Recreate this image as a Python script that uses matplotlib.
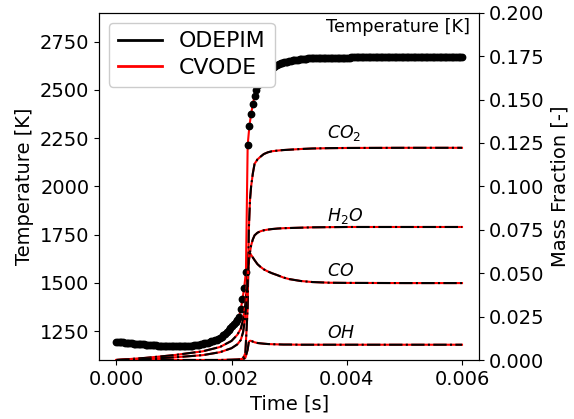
import numpy as np
import matplotlib
matplotlib.use("Agg")
import matplotlib.pyplot as plt
from matplotlib.lines import Line2D

# ODEPIM temperature, written every 3e-5 s
dt_out = 3e-5
temp_induction = [
    1195, 1194, 1193, 1192, 1191, 1190, 1189, 1188, 1187, 1186,
    1185, 1184, 1183.5, 1183, 1182, 1181, 1180.5, 1180, 1179, 1178.5,
    1178, 1177, 1176, 1175.5, 1175, 1174, 1173.5, 1173, 1172.5, 1172,
    1171.5, 1171, 1171, 1170.5, 1170.5, 1170.5, 1170.5, 1170.5, 1171, 1171,
    1171.5, 1172, 1173, 1174, 1175, 1176, 1177, 1178, 1180, 1182,
    1184, 1186, 1188, 1190, 1193, 1196, 1199, 1202, 1206, 1210,
    1215, 1221, 1228, 1236, 1245, 1254, 1264, 1275, 1287, 1296,
    1308, 1325, 1362, 1415, 1475, 1558,
]
temp_ignition = [
    2214, 2312, 2376, 2426, 2468, 2500, 2524, 2544, 2560, 2574,
    2586, 2596, 2604, 2610, 2615, 2620, 2625, 2629, 2633, 2637,
    2640, 2643, 2645, 2647, 2649, 2651, 2653, 2654, 2656, 2657,
    2658, 2659, 2660, 2661, 2662, 2663, 2663, 2664, 2664, 2665,
    2665, 2666, 2666, 2666,
]
temp_equilibrium = [
    2667, 2667, 2667, 2667, 2667, 2667, 2667, 2667, 2667, 2667,
    2667, 2667, 2667, 2667, 2667, 2667, 2668, 2668, 2668, 2668,
    2668, 2668, 2668, 2668, 2668, 2668, 2668, 2668, 2668, 2668,
    2668, 2668, 2668, 2668, 2668, 2668, 2668, 2668, 2668, 2668,
    2668, 2668, 2668, 2668, 2668, 2668, 2668, 2668, 2668, 2668,
    2668, 2668, 2668, 2668, 2668, 2668, 2668, 2668, 2668, 2668,
    2668, 2668, 2668, 2668, 2668, 2668, 2668, 2668, 2668, 2668,
    2668, 2668, 2668, 2668, 2668, 2668, 2668, 2668, 2668, 2668,
    2668,
]
temperature = np.array(temp_induction + temp_ignition + temp_equilibrium)
time_T = np.arange(len(temperature)) * dt_out

# species mass fractions (CVODE and ODEPIM lie on top of each other)
t_species = [0, 0.0005, 0.001, 0.0015, 0.0018, 0.002, 0.0021, 0.00216, 0.0022, 0.00224,
             0.00228, 0.0023, 0.00232, 0.00234, 0.00237, 0.0024, 0.00245, 0.0025, 0.00256, 0.00263,
             0.0027, 0.0028, 0.0029, 0.003, 0.0032, 0.0034, 0.0037, 0.004, 0.005, 0.006]
y_co2 = [0, 0, 0, 0, 0, 0.0001, 0.0002, 0.0004, 0.001, 0.004,
         0.03, 0.075, 0.092, 0.100, 0.1075, 0.113, 0.1155, 0.117, 0.1186, 0.1196,
         0.1202, 0.1206, 0.1209, 0.1211, 0.1215, 0.1218, 0.122, 0.1221, 0.1222, 0.1222]
y_h2o = [0, 0.0012, 0.0028, 0.005, 0.0075, 0.011, 0.0145, 0.018, 0.023, 0.032,
         0.05, 0.057, 0.062, 0.066, 0.0695, 0.0718, 0.0733, 0.0741, 0.0747, 0.0751,
         0.0754, 0.0757, 0.0759, 0.076, 0.0762, 0.0764, 0.0765, 0.0766, 0.0766, 0.0766]
y_co = [0, 0.0006, 0.0015, 0.0028, 0.0045, 0.0068, 0.009, 0.0115, 0.016, 0.025,
        0.045, 0.06, 0.0615, 0.0605, 0.059, 0.0575, 0.0552, 0.0537, 0.0522, 0.051,
        0.05, 0.0488, 0.0475, 0.0466, 0.0455, 0.0449, 0.0445, 0.0444, 0.0443, 0.0443]
y_oh = [0, 0, 0, 0, 0, 0.0001, 0.0002, 0.0003, 0.0005, 0.0012,
        0.006, 0.0105, 0.0111, 0.011, 0.0106, 0.0102, 0.0098, 0.0096, 0.0094, 0.0092,
        0.0091, 0.009, 0.0089, 0.0089, 0.0088, 0.0088, 0.0088, 0.0088, 0.0088, 0.0088]
species_names = ["$CO_2$", "$H_2O$", "$CO$", "$OH$"]

fig, ax1 = plt.subplots(figsize=(5.74, 4.19), dpi=100)
fig.subplots_adjust(left=0.1725, right=0.835, bottom=0.1408, top=0.9697)

ax1.plot(time_T, temperature, color="red", lw=1.5, zorder=1)
ax1.plot(time_T, temperature, "ko", ms=4.6, zorder=2)
ax1.set_ylim(1100, 2900)
ax1.set_yticks([1250, 1500, 1750, 2000, 2250, 2500, 2750])
ax1.set_xticks([0, 0.002, 0.004, 0.006])
ax1.tick_params(labelsize=14)
ax1.set_xlabel("Time [s]", fontsize=14)
ax1.set_ylabel("Temperature [K]", fontsize=14)

ax2 = ax1.twinx()
for ys in [y_co2, y_h2o, y_co, y_oh]:
    ax2.plot(t_species, ys, color="red", lw=1.5)
    ax2.plot(t_species, ys, color="black", ls="-.", lw=1.5)
ax2.set_ylim(0, 0.2)
ax2.set_yticks(np.arange(0, 0.201, 0.025))
ax2.tick_params(labelsize=14)
ax2.set_ylabel("Mass Fraction [-]", fontsize=14)

# species labels
for name, ypos in zip(species_names, [0.1307, 0.0829, 0.0514, 0.0157]):
    ax2.text(0.00365, ypos, name, fontsize=12.5, ha="left", va="center")
ax2.text(0.9755, 0.959, "Temperature [K]", transform=ax2.transAxes,
         fontsize=12.8, ha="right", va="center")

handles = [Line2D([], [], color="black", lw=2), Line2D([], [], color="red", lw=2)]
ax2.legend(handles, ["ODEPIM", "CVODE"], loc="upper left", fontsize=15.8,
           labelspacing=0.3, borderaxespad=0.45, framealpha=1)

fig.savefig("out.png", dpi=100)
